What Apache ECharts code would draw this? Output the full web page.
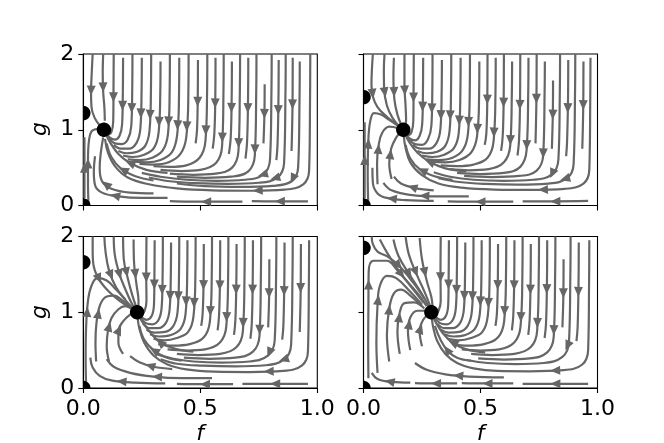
<!DOCTYPE html>
<html><head><meta charset="utf-8">
<script src="https://cdn.jsdelivr.net/npm/echarts@6/dist/echarts.min.js"></script>
<style>html,body{margin:0;padding:0;background:#fff}#c{width:664px;height:443px}</style>
</head><body><div id="c"></div>
<script>
// ---- tick labels ----
const fTicks = ['0.0', '0.5', '1.0'];
const gTicks = ['0', '1', '2'];
const fLabel = 'f';
const gLabel = 'g';

// ---- fixed points (f, g) ----
const fixedTL = [[0, 0], [0, 1.22], [0.088, 1.0]];
const fixedTR = [[0, 0], [0, 1.43], [0.17, 1.0]];
const fixedBL = [[0, 0], [0, 1.66], [0.23, 1.0]];
const fixedBR = [[0, 0], [0, 1.85], [0.29, 1.0]];

// ---- streamlines, (f, g) points ----
const streamTL = [
 [[0.04,2.0],[0.036,1.75],[0.033,1.5],[0.035,1.3],[0.048,1.16],[0.07,1.06]],
 [[0.085,2.0],[0.083,1.75],[0.085,1.5],[0.09,1.3],[0.092,1.12]],
 [[0.13,2.0],[0.129,1.5],[0.128,1.12],[0.12,0.97],[0.105,0.94],[0.094,0.98]],
 [[0.17,1.95],[0.169,1.5],[0.166,1.08],[0.155,0.92],[0.135,0.87],[0.112,0.9],[0.097,0.96]],
 [[0.21,2.0],[0.209,1.5],[0.205,1.05],[0.19,0.87],[0.165,0.81],[0.135,0.82],[0.11,0.89]],
 [[0.25,1.95],[0.249,1.5],[0.244,1.02],[0.228,0.83],[0.195,0.75],[0.16,0.75],[0.13,0.8]],
 [[0.29,2.0],[0.289,1.5],[0.283,0.99],[0.265,0.79],[0.23,0.71],[0.185,0.69],[0.15,0.72]],
 [[0.33,1.9],[0.329,1.5],[0.322,0.97],[0.302,0.76],[0.26,0.67],[0.21,0.64],[0.17,0.66]],
 [[0.37,2.0],[0.369,1.5],[0.362,0.95],[0.34,0.73],[0.295,0.63],[0.24,0.6],[0.19,0.61]],
 [[0.41,1.95],[0.409,1.45],[0.401,0.93],[0.378,0.7],[0.33,0.6],[0.27,0.57],[0.22,0.58]],
 [[0.45,2.0],[0.449,1.5],[0.44,0.9],[0.415,0.68],[0.365,0.57],[0.3,0.54],[0.24,0.55]],
 [[0.49,1.92],[0.489,1.4],[0.486,1.0],[0.48,0.82]],
 [[0.53,2.0],[0.529,1.5],[0.522,0.85],[0.497,0.63],[0.44,0.53],[0.37,0.51],[0.3,0.52]],
 [[0.565,1.95],[0.564,1.4],[0.56,0.95],[0.553,0.75]],
 [[0.6,2.0],[0.599,1.5],[0.593,0.78],[0.567,0.56],[0.5,0.47],[0.42,0.455],[0.33,0.47]],
 [[0.635,1.9],[0.634,1.4],[0.63,0.9],[0.622,0.68]],
 [[0.67,2.0],[0.669,1.5],[0.663,0.72],[0.636,0.5],[0.565,0.42],[0.47,0.405],[0.37,0.42]],
 [[0.705,1.95],[0.704,1.4],[0.7,0.85],[0.693,0.62]],
 [[0.74,2.0],[0.739,1.5],[0.733,0.66],[0.705,0.45],[0.63,0.38],[0.52,0.365],[0.4,0.38]],
 [[0.775,1.6],[0.774,1.2],[0.77,0.82]],
 [[0.805,2.0],[0.804,1.5],[0.798,0.61],[0.77,0.41],[0.69,0.34],[0.57,0.325],[0.44,0.34],[0.33,0.38],[0.25,0.43]],
 [[0.835,1.92],[0.834,1.4],[0.83,0.8],[0.825,0.6]],
 [[0.865,2.0],[0.864,1.5],[0.858,0.56],[0.83,0.37],[0.75,0.3],[0.62,0.285],[0.48,0.295],[0.37,0.32],[0.28,0.37]],
 [[0.895,1.95],[0.894,1.3],[0.89,0.72]],
 [[0.925,1.9],[0.924,1.4],[0.918,0.5],[0.89,0.32],[0.81,0.26],[0.67,0.245],[0.52,0.255],[0.4,0.29]],
 [[0.97,2.0],[0.969,1.4],[0.965,0.46],[0.94,0.28],[0.86,0.21],[0.72,0.195],[0.55,0.2],[0.4,0.225],[0.28,0.28],[0.19,0.37],[0.135,0.52],[0.105,0.7],[0.093,0.88]],
 [[0.36,0.43],[0.27,0.47],[0.2,0.56],[0.15,0.68],[0.115,0.83],[0.096,0.95]],
 [[0.3,0.33],[0.22,0.39],[0.16,0.49],[0.12,0.64],[0.1,0.82]],
 [[0.96,0.055],[0.82,0.055],[0.72,0.058]],
 [[0.68,0.05],[0.55,0.05],[0.45,0.052],[0.37,0.058]],
 [[0.36,0.1],[0.25,0.1],[0.15,0.12],[0.08,0.17],[0.05,0.27],[0.045,0.45],[0.05,0.65]],
 [[0.3,0.16],[0.2,0.17],[0.12,0.22],[0.08,0.32],[0.07,0.5],[0.075,0.7],[0.085,0.9]],
 [[0.022,0.04],[0.02,0.3],[0.02,0.6],[0.024,0.85],[0.035,0.98],[0.06,1.01]],
 [[0.005,0.1],[0.005,0.5],[0.005,0.9]]
];

const streamTR = [
 [[0.04,2.0],[0.036,1.8],[0.034,1.6],[0.04,1.44],[0.06,1.3],[0.1,1.17],[0.14,1.07]],
 [[0.09,2.0],[0.087,1.8],[0.088,1.55],[0.1,1.32],[0.125,1.15],[0.155,1.04]],
 [[0.13,1.95],[0.128,1.7],[0.132,1.4],[0.145,1.2],[0.162,1.06]],
 [[0.175,2.0],[0.175,1.6],[0.18,1.3],[0.182,1.12],[0.175,1.04]],
 [[0.215,2.0],[0.214,1.5],[0.213,1.12],[0.205,0.97],[0.19,0.93],[0.177,0.97]],
 [[0.255,1.95],[0.254,1.5],[0.251,1.08],[0.24,0.92],[0.22,0.86],[0.195,0.89],[0.178,0.96]],
 [[0.295,2.0],[0.294,1.5],[0.29,1.05],[0.275,0.87],[0.25,0.8],[0.22,0.81],[0.195,0.88]],
 [[0.335,1.92],[0.334,1.5],[0.329,1.02],[0.313,0.83],[0.28,0.75],[0.245,0.75],[0.21,0.8]],
 [[0.375,2.0],[0.374,1.5],[0.368,0.99],[0.35,0.79],[0.315,0.71],[0.27,0.69],[0.23,0.72]],
 [[0.415,1.95],[0.414,1.5],[0.407,0.96],[0.387,0.76],[0.345,0.67],[0.295,0.64],[0.25,0.66]],
 [[0.455,2.0],[0.454,1.5],[0.446,0.94],[0.424,0.73],[0.38,0.63],[0.32,0.6],[0.27,0.61]],
 [[0.495,1.9],[0.494,1.45],[0.485,0.91],[0.46,0.7],[0.41,0.6],[0.35,0.57],[0.29,0.58]],
 [[0.53,2.0],[0.529,1.4],[0.525,0.95],[0.518,0.8]],
 [[0.565,1.95],[0.564,1.5],[0.556,0.85],[0.53,0.63],[0.47,0.54],[0.4,0.52],[0.33,0.53]],
 [[0.6,2.0],[0.599,1.4],[0.595,0.92],[0.588,0.72]],
 [[0.635,1.9],[0.634,1.5],[0.627,0.79],[0.6,0.57],[0.535,0.48],[0.45,0.465],[0.37,0.48]],
 [[0.67,2.0],[0.669,1.4],[0.665,0.88],[0.658,0.66]],
 [[0.705,1.95],[0.704,1.5],[0.697,0.73],[0.67,0.51],[0.6,0.43],[0.5,0.415],[0.4,0.43]],
 [[0.74,2.0],[0.739,1.4],[0.735,0.82]],
 [[0.775,1.9],[0.774,1.5],[0.768,0.67],[0.74,0.46],[0.665,0.39],[0.55,0.375],[0.43,0.39]],
 [[0.81,1.65],[0.809,1.2],[0.805,0.75]],
 [[0.84,2.0],[0.839,1.5],[0.833,0.61],[0.805,0.41],[0.725,0.34],[0.6,0.325],[0.47,0.34],[0.37,0.38],[0.3,0.44]],
 [[0.875,1.92],[0.874,1.4],[0.87,0.85],[0.866,0.65]],
 [[0.905,2.0],[0.904,1.5],[0.898,0.55],[0.87,0.36],[0.79,0.29],[0.66,0.275],[0.52,0.285],[0.41,0.31],[0.32,0.36]],
 [[0.94,1.9],[0.939,1.3],[0.935,0.75]],
 [[0.97,1.95],[0.969,1.4],[0.965,0.47],[0.94,0.29],[0.86,0.22],[0.72,0.205],[0.56,0.21],[0.42,0.235],[0.32,0.29],[0.25,0.4],[0.2,0.57],[0.18,0.76],[0.172,0.92]],
 [[0.44,0.45],[0.35,0.49],[0.28,0.58],[0.23,0.7],[0.195,0.84],[0.177,0.95]],
 [[0.38,0.34],[0.3,0.39],[0.24,0.48],[0.2,0.62],[0.18,0.8]],
 [[0.02,0.05],[0.018,0.4],[0.02,0.8],[0.028,1.1],[0.045,1.22],[0.075,1.2],[0.11,1.13],[0.145,1.06]],
 [[0.06,0.28],[0.058,0.55],[0.065,0.8],[0.08,0.96],[0.11,1.04],[0.15,1.02]],
 [[0.12,0.35],[0.11,0.55],[0.118,0.75],[0.14,0.9],[0.16,0.97]],
 [[0.96,0.06],[0.82,0.055],[0.68,0.055]],
 [[0.64,0.05],[0.5,0.05],[0.36,0.055]],
 [[0.45,0.12],[0.32,0.12],[0.2,0.14],[0.12,0.2],[0.085,0.3]],
 [[0.3,0.06],[0.18,0.07],[0.1,0.1],[0.06,0.16],[0.04,0.3],[0.038,0.5]],
 [[0.3,0.2],[0.22,0.23],[0.16,0.29],[0.13,0.38]],
 [[0.005,0.1],[0.005,0.6],[0.005,1.1]]
];

const streamBL = [
 [[0.04,2.0],[0.04,1.8],[0.045,1.6],[0.07,1.42],[0.11,1.27],[0.16,1.14],[0.2,1.06]],
 [[0.09,2.0],[0.095,1.8],[0.11,1.55],[0.14,1.33],[0.18,1.16],[0.21,1.06]],
 [[0.13,2.0],[0.135,1.75],[0.155,1.5],[0.18,1.3],[0.205,1.13],[0.222,1.04]],
 [[0.17,2.0],[0.173,1.7],[0.19,1.45],[0.21,1.22],[0.226,1.07]],
 [[0.215,1.96],[0.217,1.65],[0.228,1.35],[0.236,1.15],[0.235,1.05]],
 [[0.27,2.0],[0.269,1.5],[0.27,1.15],[0.262,1.02],[0.248,0.98],[0.237,1.0]],
 [[0.305,1.95],[0.304,1.5],[0.302,1.1],[0.292,0.95],[0.27,0.9],[0.248,0.94]],
 [[0.34,2.0],[0.339,1.5],[0.335,1.07],[0.322,0.9],[0.295,0.84],[0.265,0.86],[0.243,0.94]],
 [[0.375,1.92],[0.374,1.5],[0.369,1.04],[0.353,0.86],[0.32,0.79],[0.285,0.79],[0.255,0.85]],
 [[0.41,2.0],[0.409,1.5],[0.403,1.01],[0.385,0.82],[0.35,0.74],[0.305,0.73],[0.27,0.77]],
 [[0.445,1.95],[0.444,1.5],[0.437,0.98],[0.416,0.78],[0.375,0.7],[0.325,0.68],[0.285,0.71]],
 [[0.48,2.0],[0.479,1.5],[0.471,0.95],[0.448,0.74],[0.4,0.66],[0.345,0.63],[0.3,0.65]],
 [[0.515,1.9],[0.514,1.4],[0.51,0.98],[0.504,0.82]],
 [[0.55,2.0],[0.549,1.5],[0.541,0.88],[0.515,0.67],[0.455,0.58],[0.385,0.56],[0.32,0.58]],
 [[0.585,1.95],[0.584,1.4],[0.58,0.95],[0.574,0.76]],
 [[0.62,2.0],[0.619,1.5],[0.611,0.81],[0.584,0.6],[0.52,0.51],[0.44,0.495],[0.36,0.51]],
 [[0.655,1.9],[0.654,1.4],[0.65,0.9],[0.644,0.7]],
 [[0.69,2.0],[0.689,1.5],[0.682,0.75],[0.655,0.54],[0.585,0.45],[0.49,0.435],[0.4,0.45]],
 [[0.725,1.95],[0.724,1.4],[0.72,0.85],[0.714,0.65]],
 [[0.76,2.0],[0.759,1.5],[0.753,0.69],[0.725,0.48],[0.65,0.4],[0.54,0.385],[0.43,0.4]],
 [[0.795,1.7],[0.794,1.2],[0.79,0.8]],
 [[0.825,2.0],[0.824,1.5],[0.818,0.63],[0.79,0.43],[0.71,0.35],[0.59,0.335],[0.47,0.35],[0.38,0.39],[0.31,0.45]],
 [[0.86,1.92],[0.859,1.4],[0.855,0.82],[0.85,0.64]],
 [[0.895,2.0],[0.894,1.5],[0.888,0.57],[0.86,0.38],[0.78,0.3],[0.65,0.285],[0.51,0.295],[0.4,0.32],[0.33,0.38]],
 [[0.93,1.9],[0.929,1.3],[0.925,0.74]],
 [[0.965,1.95],[0.964,1.4],[0.96,0.48],[0.935,0.3],[0.855,0.225],[0.71,0.21],[0.56,0.215],[0.44,0.245],[0.36,0.31],[0.3,0.43],[0.26,0.6],[0.24,0.78],[0.232,0.93]],
 [[0.47,0.48],[0.39,0.52],[0.33,0.6],[0.29,0.72],[0.255,0.86],[0.237,0.95]],
 [[0.42,0.36],[0.35,0.41],[0.3,0.5],[0.26,0.64],[0.24,0.82]],
 [[0.012,0.05],[0.01,0.4],[0.012,0.8],[0.02,1.15],[0.035,1.35],[0.06,1.45],[0.1,1.42],[0.14,1.3],[0.18,1.17]],
 [[0.055,0.35],[0.052,0.6],[0.056,0.85],[0.07,1.08],[0.095,1.2],[0.13,1.22],[0.17,1.15],[0.205,1.06]],
 [[0.11,0.35],[0.1,0.55],[0.105,0.75],[0.12,0.92],[0.15,1.04],[0.18,1.08],[0.21,1.04]],
 [[0.17,0.45],[0.15,0.6],[0.15,0.75],[0.17,0.88],[0.2,0.97],[0.222,1.0]],
 [[0.96,0.055],[0.82,0.055],[0.68,0.055]],
 [[0.64,0.05],[0.5,0.05],[0.4,0.055]],
 [[0.55,0.13],[0.42,0.13],[0.3,0.15],[0.2,0.2],[0.13,0.28],[0.1,0.38]],
 [[0.35,0.06],[0.22,0.07],[0.12,0.1],[0.07,0.16],[0.04,0.27],[0.03,0.4]],
 [[0.38,0.25],[0.3,0.28],[0.24,0.34],[0.2,0.42]]
];

const streamBR = [
 [[0.035,2.0],[0.04,1.9],[0.06,1.8],[0.1,1.74],[0.15,1.62],[0.21,1.4],[0.26,1.18]],
 [[0.07,1.96],[0.1,1.79],[0.157,1.52],[0.228,1.26],[0.27,1.08]],
 [[0.128,1.96],[0.15,1.74],[0.2,1.48],[0.25,1.24],[0.278,1.08]],
 [[0.18,2.0],[0.195,1.75],[0.23,1.48],[0.265,1.24],[0.285,1.08]],
 [[0.24,1.98],[0.25,1.7],[0.27,1.42],[0.29,1.2],[0.295,1.08]],
 [[0.021,0.13],[0.02,0.6],[0.021,1.1],[0.022,1.52],[0.043,1.68],[0.1,1.68],[0.14,1.57],[0.2,1.35],[0.256,1.13]],
 [[0.06,0.2],[0.055,0.6],[0.06,1.1],[0.07,1.35],[0.1,1.48],[0.14,1.45],[0.2,1.27],[0.25,1.1]],
 [[0.11,0.35],[0.1,0.7],[0.11,1.05],[0.13,1.25],[0.16,1.3],[0.2,1.22],[0.25,1.08]],
 [[0.155,0.45],[0.145,0.75],[0.155,1.0],[0.175,1.12],[0.215,1.13],[0.26,1.05]],
 [[0.2,0.5],[0.19,0.75],[0.2,0.93],[0.23,1.02],[0.27,1.02]],
 [[0.25,0.55],[0.24,0.75],[0.255,0.9],[0.28,0.98]],
 [[0.33,2.0],[0.329,1.5],[0.33,1.15],[0.322,1.03],[0.308,0.98],[0.297,1.0]],
 [[0.365,1.95],[0.364,1.5],[0.362,1.1],[0.352,0.95],[0.33,0.9],[0.308,0.94]],
 [[0.4,2.0],[0.399,1.5],[0.395,1.07],[0.382,0.9],[0.355,0.84],[0.325,0.86],[0.303,0.94]],
 [[0.435,1.92],[0.434,1.5],[0.429,1.04],[0.413,0.86],[0.38,0.79],[0.345,0.79],[0.315,0.85]],
 [[0.47,2.0],[0.469,1.5],[0.463,1.01],[0.445,0.82],[0.41,0.74],[0.365,0.73],[0.33,0.77]],
 [[0.505,1.95],[0.504,1.5],[0.497,0.98],[0.476,0.78],[0.435,0.7],[0.385,0.68],[0.345,0.71]],
 [[0.54,2.0],[0.539,1.5],[0.531,0.95],[0.508,0.74],[0.46,0.66],[0.405,0.63],[0.36,0.65]],
 [[0.575,1.9],[0.574,1.4],[0.57,0.98],[0.564,0.82]],
 [[0.61,2.0],[0.609,1.5],[0.601,0.88],[0.575,0.67],[0.515,0.58],[0.445,0.56],[0.38,0.58]],
 [[0.645,1.95],[0.644,1.4],[0.64,0.95],[0.634,0.76]],
 [[0.68,2.0],[0.679,1.5],[0.671,0.81],[0.644,0.6],[0.58,0.51],[0.5,0.495],[0.42,0.51]],
 [[0.715,1.9],[0.714,1.4],[0.71,0.9],[0.704,0.7]],
 [[0.75,2.0],[0.749,1.5],[0.742,0.75],[0.715,0.54],[0.645,0.45],[0.55,0.435],[0.46,0.45]],
 [[0.785,1.95],[0.784,1.4],[0.78,0.85],[0.774,0.66]],
 [[0.82,2.0],[0.819,1.5],[0.813,0.68],[0.785,0.47],[0.71,0.39],[0.6,0.375],[0.49,0.39]],
 [[0.855,1.7],[0.854,1.2],[0.85,0.8]],
 [[0.885,2.0],[0.884,1.5],[0.878,0.6],[0.85,0.41],[0.77,0.33],[0.65,0.315],[0.53,0.33],[0.44,0.37]],
 [[0.92,1.92],[0.919,1.4],[0.915,0.8],[0.91,0.62]],
 [[0.965,1.95],[0.964,1.4],[0.96,0.5],[0.935,0.31],[0.855,0.235],[0.71,0.22],[0.57,0.225],[0.47,0.26],[0.4,0.33],[0.35,0.45],[0.315,0.62],[0.298,0.8],[0.292,0.93]],
 [[0.52,0.47],[0.44,0.51],[0.38,0.6],[0.34,0.72],[0.31,0.86],[0.296,0.95]],
 [[0.46,0.36],[0.4,0.4],[0.36,0.49],[0.33,0.63],[0.305,0.82]],
 [[0.96,0.055],[0.82,0.055],[0.68,0.055]],
 [[0.64,0.06],[0.52,0.06],[0.42,0.065]],
 [[0.4,0.06],[0.3,0.06],[0.22,0.065]],
 [[0.6,0.14],[0.45,0.15],[0.35,0.18],[0.27,0.24],[0.22,0.33]],
 [[0.2,0.07],[0.12,0.08],[0.06,0.12],[0.035,0.2]]
];

// ---- layout ----
const panels = [
  { lines: streamTL, fixed: fixedTL, left: 83.3, top: 54,    xLab: false, yLab: true  },
  { lines: streamTR, fixed: fixedTR, left: 363.5, top: 54,   xLab: false, yLab: false },
  { lines: streamBL, fixed: fixedBL, left: 83.3, top: 236.5, xLab: true,  yLab: true  },
  { lines: streamBR, fixed: fixedBR, left: 363.5, top: 236.5,xLab: true,  yLab: false }
];
const PW = 234, PH = 151.5;
const LINE = '#666666';
const FONT = 'DejaVu Sans';

const chart = echarts.init(document.getElementById('c'), null, { renderer: 'canvas' });

const grid = [], xAxis = [], yAxis = [], series = [];
panels.forEach((p, i) => {
  grid.push({ left: p.left, top: p.top, width: PW, height: PH, containLabel: false, show: true,
    borderColor: '#000', borderWidth: 1.1, backgroundColor: 'transparent' });
  xAxis.push({ gridIndex: i, type: 'value', min: 0, max: 1, interval: 0.5,
    axisLine: { show: true, lineStyle: { color: '#000', width: 1.1 } },
    axisTick: { show: true, inside: false, length: 5, lineStyle: { color: '#000', width: 1.1 } },
    axisLabel: { show: p.xLab, margin: 10, fontSize: 22, color: '#000', fontFamily: FONT,
      showMinLabel: true, showMaxLabel: true, formatter: v => fTicks[Math.round(v / 0.5)] },
    splitLine: { show: false } });
  yAxis.push({ gridIndex: i, type: 'value', min: 0, max: 2, interval: 1,
    axisLine: { show: true, lineStyle: { color: '#000', width: 1.1 } },
    axisTick: { show: true, inside: false, length: 5, lineStyle: { color: '#000', width: 1.1 } },
    axisLabel: { show: p.yLab, margin: 9, fontSize: 22, color: '#000', fontFamily: FONT,
      showMinLabel: true, showMaxLabel: true, formatter: v => gTicks[Math.round(v)] },
    splitLine: { show: false } });
  p.lines.forEach(ln => {
    series.push({ type: 'line', xAxisIndex: i, yAxisIndex: i, data: ln, showSymbol: false, symbol: 'none',
      smooth: 0.4, silent: true, z: 2, lineStyle: { color: LINE, width: 2.2 } });
  });
  series.push({ type: 'custom', xAxisIndex: i, yAxisIndex: i, data: p.fixed, z: 5, silent: true, clip: false,
    renderItem: (params, api) => {
      const c = api.coord([api.value(0), api.value(1)]);
      const cs = params.coordSys;
      const r = 7.2, pts = [];
      for (let k = 0; k < 60; k++) {
        const a = k / 60 * 2 * Math.PI;
        let x = c[0] + r * Math.cos(a), y = c[1] + r * Math.sin(a);
        x = Math.min(Math.max(x, cs.x), cs.x + cs.width);
        y = Math.min(Math.max(y, cs.y), cs.y + cs.height);
        pts.push([x, y]);
      }
      return { type: 'polygon', shape: { points: pts }, style: { fill: '#000' } };
    } });
});

const graphic = [
  { type: 'text', x: 40, y: 129, rotation: Math.PI / 2, style: { text: gLabel, font: 'italic 22px "DejaVu Sans"', fill: '#000', align: 'center', verticalAlign: 'middle' } },
  { type: 'text', x: 40, y: 312, rotation: Math.PI / 2, style: { text: gLabel, font: 'italic 22px "DejaVu Sans"', fill: '#000', align: 'center', verticalAlign: 'middle' } },
  { type: 'text', x: 200, y: 434, style: { text: fLabel, font: 'italic 22px "DejaVu Sans"', fill: '#000', align: 'center', verticalAlign: 'middle' } },
  { type: 'text', x: 480.5, y: 434, style: { text: fLabel, font: 'italic 22px "DejaVu Sans"', fill: '#000', align: 'center', verticalAlign: 'middle' } }
];

chart.setOption({ animation: false, backgroundColor: '#fff', grid, xAxis, yAxis, series, graphic });

// ---- arrow heads at the arc-length midpoint of each streamline ----
const arrowSeries = [];
panels.forEach((p, i) => {
  const data = p.lines.map(ln => {
    const px = ln.map(q => chart.convertToPixel({ gridIndex: i }, q));
    const L = [0];
    for (let k = 1; k < px.length; k++) L.push(L[k - 1] + Math.hypot(px[k][0] - px[k - 1][0], px[k][1] - px[k - 1][1]));
    const half = L[L.length - 1] / 2;
    let k = 0;
    while (k < px.length - 2 && L[k + 1] < half) k++;
    const seg = L[k + 1] - L[k] || 1;
    const t = (half - L[k]) / seg;
    const dx = px[k + 1][0] - px[k][0], dy = px[k + 1][1] - px[k][1];
    const x = px[k][0] + t * dx, y = px[k][1] + t * dy;
    const ang = Math.atan2(-dx, -dy) * 180 / Math.PI;
    return { value: chart.convertFromPixel({ gridIndex: i }, [x, y]), symbolRotate: ang };
  });
  arrowSeries.push({ type: 'scatter', xAxisIndex: i, yAxisIndex: i, data, symbol: 'triangle',
    symbolSize: [9, 10], silent: true, z: 3, itemStyle: { color: LINE, opacity: 1 } });
});
chart.setOption({ series: series.concat(arrowSeries) });
</script>
</body></html>
